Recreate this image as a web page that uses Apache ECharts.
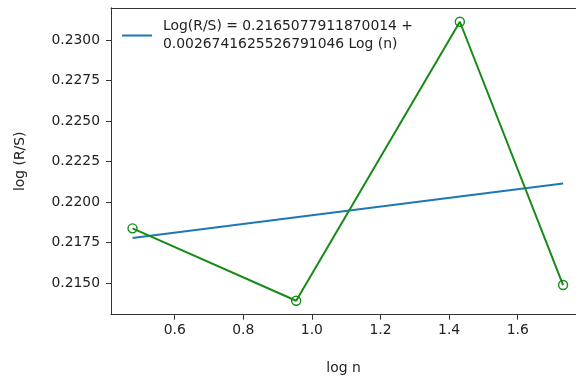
<!DOCTYPE html>
<html>
<head>
<meta charset="utf-8">
<script src="https://cdn.jsdelivr.net/npm/echarts@6/dist/echarts.min.js"></script>
<style>html,body{margin:0;padding:0;background:#fff;}#c{width:576px;height:381px;}</style>
</head>
<body>
<div id="c"></div>
<script>
const logN = [0.4771, 0.9542, 1.4314, 1.7324];
const logRS = [0.21838, 0.21391, 0.23113, 0.21488];
const fitRS = [0.21778, 0.21906, 0.22034, 0.22114];
const xTicks = [0.6, 0.8, 1.0, 1.2, 1.4, 1.6];
const yTicks = [0.2150, 0.2175, 0.2200, 0.2225, 0.2250, 0.2275, 0.2300];
const fitName = 'Log(R/S) = 0.2165077911870014 +\n0.0026741625526791046 Log (n)';

const font = 'DejaVu Sans';
const txt = '#222';
const frame = '#333';
const chart = echarts.init(document.getElementById('c'), null, {renderer: 'canvas'});
chart.setOption({
  animation: false,
  backgroundColor: '#fff',
  grid: {left: 111, top: 7.8, right: 0, bottom: 66.3, show: false},
  legend: {
    left: 117, top: 13, itemWidth: 30, itemHeight: 2, icon: 'rect',
    data: [{name: fitName}],
    textStyle: {fontFamily: font, fontSize: 13.9, color: txt, lineHeight: 17.5, padding: [0, 0, 0, 6]}
  },
  xAxis: [{
    type: 'value', min: 0.41433, max: 1.77002, position: 'bottom',
    name: 'log n', nameLocation: 'middle', nameGap: 47,
    nameTextStyle: {fontFamily: font, fontSize: 13.9, color: txt},
    axisLine: {show: true, lineStyle: {color: frame, width: 1}},
    axisTick: {show: true, length: 5, lineStyle: {color: frame}, customValues: xTicks},
    axisLabel: {fontFamily: font, fontSize: 13.9, color: txt, margin: 9, customValues: xTicks, formatter: v => v.toFixed(1)},
    splitLine: {show: false}
  }, {
    type: 'value', min: 0.41433, max: 1.77002, position: 'top',
    axisLine: {show: true, lineStyle: {color: frame, width: 1}},
    axisTick: {show: false}, axisLabel: {show: false}, splitLine: {show: false}
  }],
  yAxis: {
    type: 'value', min: 0.213049, max: 0.231991,
    name: 'log (R/S)', nameLocation: 'middle', nameGap: 84, nameRotate: 90,
    nameTextStyle: {fontFamily: font, fontSize: 13.9, color: txt},
    axisLine: {show: true, lineStyle: {color: frame, width: 1}},
    axisTick: {show: true, length: 5, lineStyle: {color: frame}, customValues: yTicks},
    axisLabel: {fontFamily: font, fontSize: 13.9, color: txt, margin: 11, customValues: yTicks, formatter: v => v.toFixed(4)},
    splitLine: {show: false}
  },
  series: [
    {
      name: fitName, type: 'line', xAxisIndex: 0,
      data: logN.map((x, i) => [x, fitRS[i]]),
      showSymbol: false, symbol: 'none',
      lineStyle: {color: '#1f77b4', width: 2},
      itemStyle: {color: '#1f77b4'},
      z: 2
    },
    {
      name: 'data', type: 'line', xAxisIndex: 0,
      data: logN.map((x, i) => [x, logRS[i]]),
      symbol: 'circle', symbolSize: 9,
      lineStyle: {color: '#178a17', width: 2},
      itemStyle: {color: 'transparent', borderColor: '#178a17', borderWidth: 1.4},
      z: 3
    }
  ]
});
</script>
</body>
</html>
